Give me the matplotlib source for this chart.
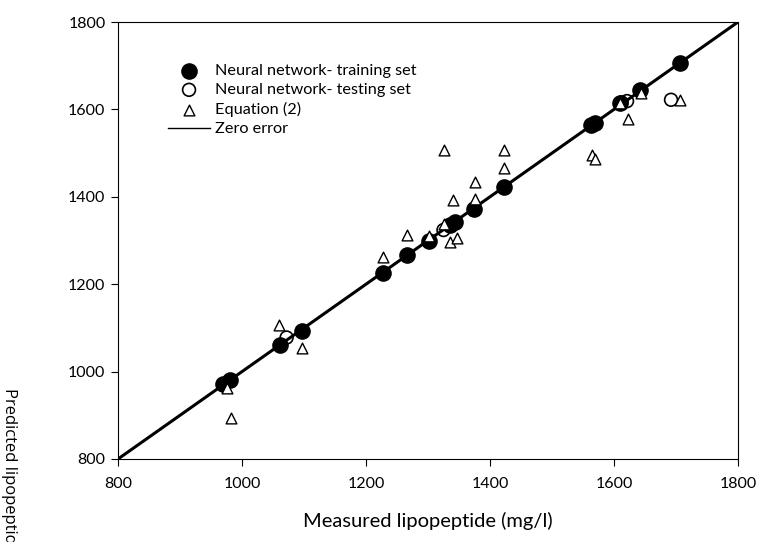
import matplotlib
matplotlib.use("Agg")
import matplotlib.pyplot as plt

plt.rcParams['font.family'] = ['Open Sans', 'DejaVu Sans']

train_measured = [970, 980, 1062, 1096, 1228, 1266, 1301, 1335, 1343, 1374, 1422, 1563, 1569, 1610, 1642, 1706]
train_predicted = [972, 980, 1060, 1093, 1226, 1266, 1300, 1336, 1342, 1373, 1422, 1565, 1569, 1614, 1644, 1706]

test_measured = [1072, 1325, 1612, 1621, 1692]
test_predicted = [1078, 1324, 1616, 1619, 1622]

eq_measured = [975, 983, 1060, 1096, 1228, 1266, 1301, 1326, 1326, 1336, 1346, 1341, 1375, 1375, 1423, 1423, 1565, 1569, 1610, 1622, 1643, 1706]
eq_predicted = [962, 893, 1106, 1055, 1262, 1312, 1310, 1508, 1338, 1296, 1306, 1393, 1435, 1395, 1506, 1465, 1496, 1487, 1615, 1578, 1638, 1622]

zero_line = [800, 1800]
ticks = [800, 1000, 1200, 1400, 1600, 1800]

fig = plt.figure(figsize=(7.58, 5.42), dpi=100)
ax = fig.add_axes([118/758, 1-459/542, 620/758, 437/542])

ln, = ax.plot(zero_line, zero_line, color='black', lw=2.2, label='Zero error', zorder=2)
ax.scatter(train_measured, train_predicted, s=120, c='black', edgecolors='black', zorder=3,
           label='Neural network- training set')
ax.scatter(test_measured, test_predicted, s=85, facecolors='none', edgecolors='black', linewidths=1.2,
           zorder=4, label='Neural network- testing set')
ax.scatter(eq_measured, eq_predicted, s=60, marker='^', facecolors='white', edgecolors='black',
           linewidths=1.0, zorder=5, label='Equation (2)')

ax.set_xlim(800, 1800)
ax.set_ylim(800, 1800)
ax.set_xticks(ticks)
ax.set_yticks(ticks)
ax.tick_params(direction='out', length=5, top=False, right=False)
ax.tick_params(axis='x', pad=8)
ax.tick_params(axis='y', pad=4)
for lab in ax.get_xticklabels() + ax.get_yticklabels():
    lab.set_fontfamily(['Lato', 'DejaVu Sans'])
    lab.set_fontsize(11.5)
for s in ax.spines.values():
    s.set_linewidth(0.8)

ax.set_xlabel('Measured lipopeptide (mg/l)', fontsize=14.5, labelpad=15,
              family=['Lato', 'DejaVu Sans'])
fig.text(0.012, 1-388/542, 'Predicted lipopeptide (mg/l)', rotation=270, fontsize=12,
         ha='center', va='top')

handles, labels = ax.get_legend_handles_labels()
order = [1, 2, 3, 0]
leg = ax.legend([handles[i] for i in order], [labels[i] for i in order],
                loc='upper left', bbox_to_anchor=(0.07, 0.92), frameon=False,
                prop={'family': ['Lato', 'DejaVu Sans'], 'size': 11.7},
                handlelength=2.6, handletextpad=0.3, labelspacing=0.3,
                borderaxespad=0)
leg.legend_handles[3].set_linewidth(1.0)
leg.legend_handles[0].set_sizes([120])
leg.legend_handles[1].set_sizes([85])
leg.legend_handles[2].set_sizes([60])

fig.savefig('out.png', dpi=100)
